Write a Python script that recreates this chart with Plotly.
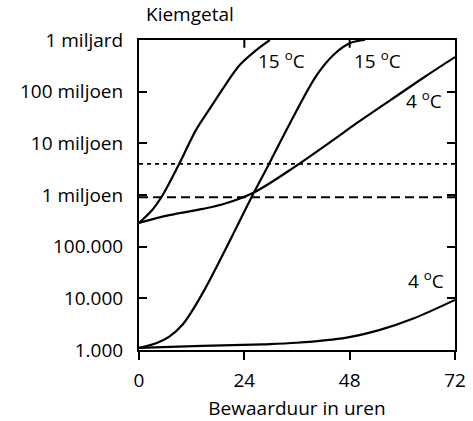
import plotly.graph_objects as go

# Bacterial count (kiemgetal) against storage time, log10 scale
hours_15a = [0, 3.1, 5.4, 9.2, 13.0, 16.2, 19.2, 23.0, 26.8, 29.8]
log_15a = [5.46, 5.72, 6.0, 6.61, 7.26, 7.68, 8.07, 8.52, 8.81, 9.0]

hours_15b = [0, 3.9, 6.9, 10.0, 14.5, 18.1, 21.9, 25.3, 29.5, 34.4, 40.5, 44.3, 48.1, 51.5]
log_15b = [3.04, 3.13, 3.26, 3.50, 4.10, 4.68, 5.32, 5.90, 6.58, 7.39, 8.32, 8.71, 8.94, 9.0]

hours_4a = [0, 6.9, 14.5, 19.8, 26.4, 35.9, 43.5, 49.6, 57.2, 64.8, 72]
log_4a = [5.46, 5.61, 5.73, 5.84, 6.06, 6.57, 7.02, 7.39, 7.83, 8.27, 8.67]

hours_4b = [0, 14.3, 28.3, 35.9, 47.3, 54.9, 62.5, 72]
log_4b = [3.04, 3.08, 3.11, 3.14, 3.24, 3.39, 3.61, 3.97]

dotted_level = 4.0e6
dashed_level = 0.9e6

y_tickvals = [1e3, 1e4, 1e5, 1e6, 1e7, 1e8, 1e9]
y_ticktext = ["1.000", "10.000", "100.000", "1 miljoen", "10 miljoen", "100 miljoen", "1 miljard"]
x_tickvals = [0, 24, 48, 72]

# Curve labels: (hour, log10 count, text)
curve_labels = [
    (32.5, 8.61, "15 <sup>o</sup>C"),
    (54.4, 8.61, "15 <sup>o</sup>C"),
    (65.0, 7.84, "4 <sup>o</sup>C"),
    (65.5, 4.35, "4 <sup>o</sup>C"),
]

FONT = "Open Sans"
FS = 19
fig = go.Figure()

for hx, ly in [(hours_15a, log_15a), (hours_15b, log_15b), (hours_4a, log_4a), (hours_4b, log_4b)]:
    fig.add_trace(go.Scatter(
        x=hx, y=[10 ** v for v in ly], mode="lines",
        line=dict(color="black", width=2.2, shape="spline", smoothing=1.0),
        hoverinfo="skip", showlegend=False,
    ))

# Reference levels
fig.add_trace(go.Scatter(x=[0, 72], y=[dotted_level] * 2, mode="lines",
                         line=dict(color="black", width=1.6, dash="4px,4px"),
                         hoverinfo="skip", showlegend=False))
fig.add_trace(go.Scatter(x=[0, 72], y=[dashed_level] * 2, mode="lines",
                         line=dict(color="black", width=2, dash="9px,5px"),
                         hoverinfo="skip", showlegend=False))

# Inward ticks along the top edge
for xv in x_tickvals[1:-1]:
    fig.add_shape(type="line", xref="x", yref="paper", x0=xv, x1=xv, y0=1, y1=0.975,
                  line=dict(color="black", width=2))

for hx, ly, txt in curve_labels:
    fig.add_annotation(x=hx, y=ly, text=txt, showarrow=False,
                       font=dict(family=FONT, size=FS, color="black"),
                       xanchor="center", yanchor="middle")

fig.add_annotation(x=0.015, y=1.035, xref="paper", yref="paper", text="Kiemgetal",
                   showarrow=False, xanchor="left", yanchor="bottom",
                   font=dict(family=FONT, size=FS, color="black"))

fig.update_xaxes(
    range=[0, 72], tickvals=x_tickvals, ticks="outside", ticklen=8, tickwidth=2,
    tickcolor="black", showline=True, linewidth=2, linecolor="black", mirror=True,
    showgrid=False, zeroline=False, ticklabelstandoff=4, automargin=False,
    tickfont=dict(family=FONT, size=FS, color="black"),
    title=dict(text="Bewaarduur in uren", standoff=13,
               font=dict(family=FONT, size=FS, color="black")),
)
fig.update_yaxes(
    type="log", range=[3, 9], tickvals=y_tickvals, ticktext=y_ticktext,
    ticks="inside", ticklen=8, tickwidth=2, tickcolor="black",
    showline=True, linewidth=2, linecolor="black", mirror="ticks",
    showgrid=False, zeroline=False, ticklabelstandoff=10, automargin=False,
    tickfont=dict(family=FONT, size=FS, color="black"),
)
fig.update_layout(
    width=473, height=421, margin=dict(l=139, r=18, t=40, b=71),
    plot_bgcolor="white", paper_bgcolor="white",
)
fig.write_html("out.html")
